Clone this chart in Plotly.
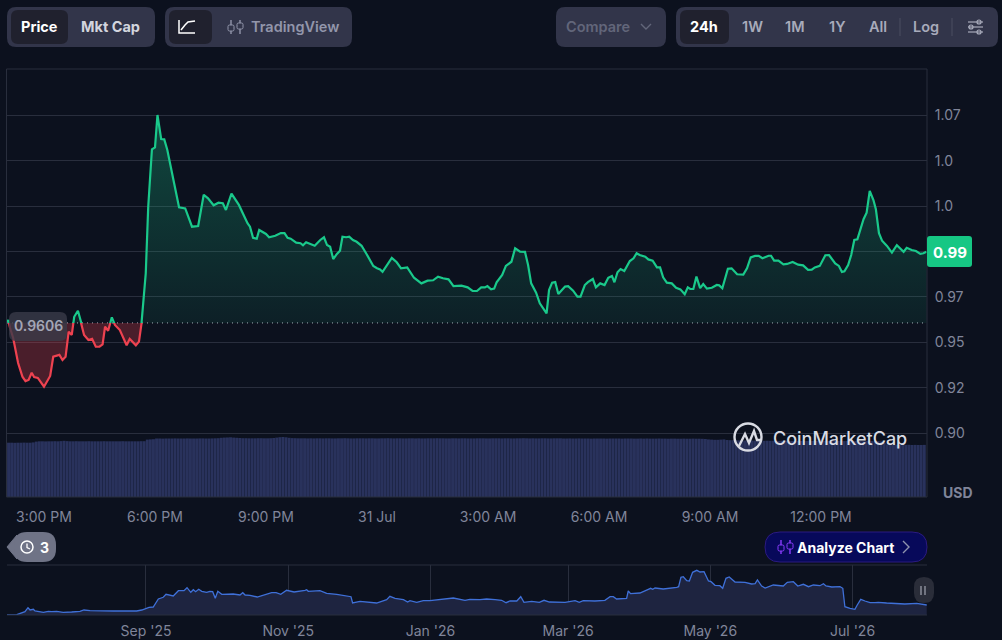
import numpy as np
import pandas as pd
import plotly.graph_objects as go

W, H = 1002, 640

# price line, minutes after 30 Jul 2:00 PM
price_minutes = [
    0, 2, 5, 10, 18, 25, 30, 35, 40, 44, 50, 60, 70, 75, 85, 90, 95, 100, 105, 109,
    115, 121, 125, 132, 138, 144, 150, 155, 159, 164, 170, 175, 183, 194, 199, 209, 214, 218, 225, 229,
    235, 240, 244, 250, 255, 260, 267, 271, 279, 289, 300, 310, 319, 326, 335, 343, 350, 355, 364, 376,
    390, 394, 399, 405, 409, 420, 425, 435, 444, 450, 455, 460, 469, 476, 480, 485, 499, 508, 514, 519,
    524, 529, 535, 540, 544, 550, 555, 561, 567, 575, 583, 594, 600, 605, 609, 624, 632, 639, 649, 660,
    672, 682, 691, 699, 707, 716, 724, 737, 747, 755, 762, 769, 775, 779, 785, 790, 794, 803, 809, 818,
    824, 832, 840, 845, 850, 858, 864, 870, 875, 879, 884, 889, 894, 905, 910, 918, 925, 930, 937, 942,
    950, 955, 962, 969, 975, 981, 985, 990, 995, 1001, 1010, 1016, 1021, 1026, 1035, 1040, 1047, 1054, 1059, 1064,
    1070, 1078, 1085, 1092, 1099, 1104, 1108, 1113, 1118, 1124, 1129, 1135, 1143, 1151, 1155, 1160, 1169, 1175, 1184, 1194,
    1200, 1206, 1213, 1219, 1225, 1235, 1239, 1244, 1251, 1259, 1265, 1274, 1283, 1291, 1299, 1305, 1310, 1318, 1327, 1333,
    1343, 1349, 1354, 1358, 1364, 1369, 1374, 1379, 1383, 1389, 1394, 1399, 1405, 1409, 1414, 1419, 1427, 1435, 1443, 1454,
    1459, 1467, 1474, 1481, 1486, 1491,
]
price_values = [
    .9611, .9622, .9578, .9523, .9385, .9310, .9286, .9292, .9332, .9308, .9303, .9255, .9314, .9420, .9430, .9402, .9420, .9558, .9540, .9640,
    .9673, .9600, .9540, .9512, .9519, .9475, .9475, .9488, .9585, .9563, .9637, .9595, .9567, .9483, .9518, .9483, .9503, .9600, .9879, 1.0246,
    1.0562, 1.0573, 1.0751, 1.0619, 1.0617, 1.0558, 1.0430, 1.0375, 1.0243, 1.0237, 1.0136, 1.0140, 1.0312, 1.0292, 1.0254, 1.0268, 1.0265, 1.0228, 1.0318, 1.0256,
    1.0155, 1.0136, 1.0075, 1.0070, 1.0118, 1.0096, 1.0078, 1.0086, 1.0101, 1.0101, 1.0075, 1.0070, 1.0048, 1.0045, 1.0034, 1.0050, 1.0031, 1.0063, 1.0078, 1.0035,
    1.0026, .9958, .9986, 1.0004, 1.0081, 1.0078, 1.0081, 1.0063, 1.0053, 1.0031, .9986, .9920, .9907, .9901, .9888, .9964, .9940, .9907, .9912, .9855,
    .9824, .9839, .9841, .9861, .9852, .9846, .9809, .9811, .9802, .9782, .9782, .9802, .9802, .9809, .9791, .9795, .9830, .9870, .9920, .9943,
    1.0017, .9998, .9997, .9925, .9824, .9773, .9714, .9687, .9659, .9787, .9828, .9831, .9765, .9806, .9809, .9784, .9751, .9751, .9815, .9831,
    .9848, .9802, .9824, .9815, .9855, .9865, .9830, .9885, .9903, .9892, .9947, .9962, .9990, .9980, .9971, .9956, .9949, .9912, .9912, .9857,
    .9828, .9824, .9800, .9791, .9764, .9802, .9793, .9793, .9861, .9798, .9820, .9795, .9800, .9815, .9813, .9797, .9905, .9907, .9874, .9872,
    .9907, .9967, .9975, .9975, .9962, .9976, .9976, .9949, .9949, .9929, .9931, .9942, .9927, .9923, .9898, .9899, .9912, .9920, .9979, .9980,
    .9934, .9920, .9887, .9890, .9925, .9980, 1.0063, 1.0067, 1.0108, 1.0177, 1.0213, 1.0333, 1.0283, 1.0232, 1.0100, 1.0059, 1.0030, .9993, 1.0034, .9998,
    1.0020, 1.0008, 1.0002, .9986, .9990, .9998,
]
base_price = 0.9606

# 5 min volume bars
volume_values = [
    54.3, 54.3, 54.2, 54.3, 54.3, 54.4, 54.3, 54.3, 54.6, 55.4, 55.7, 55.7,
    55.6, 55.7, 55.7, 55.8, 55.7, 55.9, 56.2, 55.9, 55.7, 55.7, 55.8, 55.7,
    55.7, 55.7, 55.8, 55.7, 55.7, 55.7, 55.7, 55.8, 55.7, 55.7, 55.7, 55.7,
    55.7, 55.8, 55.7, 55.7, 55.7, 55.7, 55.7, 55.8, 55.8, 57.4, 57.6, 57.8,
    58.5, 58.5, 58.4, 58.5, 58.5, 58.5, 58.6, 58.5, 58.5, 58.5, 58.6, 58.5,
    58.5, 58.5, 58.6, 58.6, 58.5, 58.5, 58.6, 58.7, 58.8, 59.2, 59.4, 59.5,
    59.7, 59.4, 59.2, 59.0, 58.8, 58.8, 58.7, 58.7, 58.7, 58.8, 58.8, 58.7,
    58.7, 58.8, 59.0, 59.4, 59.8, 60.0, 59.7, 59.2, 58.9, 58.8, 58.7, 58.7,
    58.7, 58.6, 58.7, 58.6, 58.7, 58.7, 58.6, 58.7, 58.7, 58.6, 58.6, 58.7,
    58.7, 58.8, 58.7, 58.6, 58.6, 58.7, 58.7, 58.7, 58.6, 58.7, 58.7, 58.6,
    58.6, 58.7, 58.7, 58.8, 58.7, 58.6, 58.7, 58.7, 58.6, 58.6, 58.7, 58.7,
    58.6, 58.7, 58.6, 58.6, 58.7, 58.7, 58.7, 58.8, 58.7, 58.7, 58.6, 58.6,
    58.7, 58.7, 58.6, 58.7, 58.7, 58.6, 58.6, 58.6, 58.7, 58.7, 58.7, 58.6,
    58.6, 58.7, 58.7, 58.7, 58.6, 58.7, 58.7, 58.6, 58.6, 58.7, 58.7, 58.8,
    58.7, 58.6, 58.7, 58.6, 58.6, 58.7, 58.7, 58.6, 58.6, 58.7, 58.7, 58.7,
    58.5, 58.5, 58.6, 58.5, 58.5, 58.6, 58.5, 58.5, 58.5, 58.4, 58.5, 58.5,
    58.5, 58.5, 58.4, 58.5, 58.5, 58.5, 58.5, 58.4, 58.5, 58.5, 58.5, 58.4,
    58.4, 58.5, 58.4, 58.5, 58.4, 58.4, 58.4, 58.5, 58.4, 58.4, 58.3, 58.4,
    58.4, 58.3, 58.3, 58.4, 58.3, 58.3, 58.4, 58.3, 58.3, 58.2, 58.0, 57.6,
    57.4, 57.2, 57.2, 57.4, 57.6, 57.0, 56.8, 56.8, 56.6, 56.6, 56.5, 56.5,
    56.4, 56.4, 56.4, 56.3, 56.3, 56.2, 56.3, 56.2, 56.2, 56.2, 56.1, 56.2,
    56.1, 56.1, 56.0, 56.1, 56.1, 56.0, 56.0, 56.1, 56.0, 56.0, 56.0, 56.0,
    56.0, 56.0, 56.0, 56.1, 56.0, 56.0, 56.0, 55.9, 56.0, 56.0, 55.9, 55.9,
    56.0, 55.9, 55.9, 56.0, 55.9, 55.9, 55.9, 55.6, 54.2, 52.6, 52.3, 52.2,
    52.2, 52.1, 52.2, 52.1, 52.2, 52.0, 52.1, 52.0, 52.0, 52.1,
]

# navigator line, days after the start of the overview range
nav_days = [
    0, 4.2, 7.7, 9, 9.9, 11.3, 12, 15.6, 17.7, 19.2, 21.3, 24.1, 27.7, 31.3, 33, 35.6, 45.6, 55.6, 57.8, 60.9,
    62.7, 64.9, 67, 68.2, 71.3, 73.5, 75.9, 77.2, 78.8, 79.9, 80.9, 82.2, 83.5, 85.6, 87, 88.2, 89.3, 90.4, 92.1, 95.6,
    97, 99.9, 101.1, 102.1, 104.2, 107.3, 109.9, 113.5, 115.4, 117.4, 119.9, 123.1, 127.8, 128.5, 129.2, 134.2, 137.1, 141.4, 147.5, 148.2,
    151.4, 154.9, 158.5, 162.8, 164.2, 166.4, 170, 171.8, 172.8, 175.7, 178.5, 181.4, 185.7, 191.4, 196.4, 198.5, 202.8, 205.7, 209.3, 212.1,
    214, 215.7, 218.6, 220.3, 221.7, 225, 228.3, 230.3, 232.6, 237.9, 239.3, 243.6, 245.4, 247.1, 252.1, 256.4, 258.6, 260, 261.4, 265.7,
    266.4, 267.4, 271.4, 275, 276, 276.9, 277.9, 281.4, 285, 287.2, 288, 289, 290, 291.5, 292.6, 294, 295.8, 297.2, 298.9, 300.8,
    301.9, 303.6, 305.7, 306.9, 308.3, 309.7, 312.2, 316.5, 319.3, 320.8, 321.8, 323.6, 325.1, 327.6, 328.6, 332.9, 334.6, 337.2, 339.1, 341.5,
    343.7, 345.8, 348.6, 350.1, 351.2, 353.7, 357.2, 358.4, 359.3, 361.5, 363.6, 364.6, 366.1, 367.9, 370.1, 372.2, 373.6, 377.2, 385, 390.1,
    394.4,
]
nav_values = [
    0, .3, 3.3, 7.3, 5, 5.7, 4, 2.7, 3.7, 3.3, 3.7, 2.7, 3, 3.7, 5, 4.3, 4, 4, 5, 7.7,
    8, 16, 17.7, 20.7, 19, 24.3, 24.3, 27.3, 22.7, 25.3, 23.3, 25.7, 23.7, 22.7, 23.7, 23.3, 16.7, 23.7, 20.7, 20.7,
    21, 20, 22.3, 20, 19.7, 18, 20, 22.3, 22.3, 20.7, 24.7, 23, 24.7, 25.3, 23.7, 24.3, 21.7, 20.7, 18.3, 12,
    13.7, 13, 12, 15.3, 18.7, 16.7, 15.3, 13, 14.3, 12.7, 14.3, 14.3, 15.3, 17, 14.7, 15.7, 15.3, 16, 15.3, 14.7,
    12.3, 14, 14, 18.3, 12.7, 13.7, 12.7, 14.7, 13, 13.3, 12.7, 14.3, 12.7, 14.3, 14, 14.7, 18.3, 18.3, 16, 16.7,
    24, 21.3, 22, 25.7, 26.7, 25.7, 27, 26, 26.7, 27.7, 28.3, 37.7, 38.3, 34.3, 34, 42.7, 44.7, 43, 43.3, 34,
    33.3, 29.7, 29.3, 26.7, 36.7, 38, 33, 32.7, 31, 31.3, 35, 29, 27, 29, 30, 29, 32.7, 33.3, 29, 30.7,
    28.3, 30, 29.3, 31.3, 29, 28, 28.3, 26.7, 8.3, 6.7, 5.7, 10, 15.7, 14, 12.3, 12.3, 12.7, 12, 11, 11.7,
    10,
]

y_ticks = [0.90, 0.925, 0.95, 0.975, 1.0, 1.025, 1.05, 1.075]
y_labels = ['0.90', '0.92', '0.95', '0.97', '', '1.0', '1.0', '1.07']
x_ticks = ['2026-07-30 15:00', '2026-07-30 18:00', '2026-07-30 21:00', '2026-07-31 00:00',
           '2026-07-31 03:00', '2026-07-31 06:00', '2026-07-31 09:00', '2026-07-31 12:00']
x_labels = ['3:00 PM', '6:00 PM', '9:00 PM', '31 Jul', '3:00 AM', '6:00 AM', '9:00 AM', '12:00 PM']
nav_ticks = ['2025-09-01', '2025-11-01', '2026-01-01', '2026-03-01', '2026-05-01', '2026-07-01']
nav_labels = ["Sep '25", "Nov '25", "Jan '26", "Mar '26", "May '26", "Jul '26"]

BG = '#0c111e'
GRID = '#292e3d'
TICK = '#80859a'
GREEN = '#1ac98b'
RED = '#ee4250'
PANEL = '#32354a'
ACTIVE = '#20212e'
FONT = 'Inter'
NONE = 'rgba(0,0,0,0)'


def xp(px):
    return px / W


def yp(py):
    return 1 - py / H


# pixel scale of the price axis
PER_PX = 0.025 / 45.4
top_price = 0.90 + (433 - 69) * PER_PX
bottom_price = 0.90 + (433 - 497) * PER_PX
base_py = 433 - (base_price - 0.90) / PER_PX

start = pd.Timestamp('2026-07-30 14:00')
end = start + pd.Timedelta(hours=920 / 37)
price_x = start + pd.to_timedelta(price_minutes, unit='m')
base_y = [base_price] * len(price_x)
volume_x = start + pd.to_timedelta(2.5 + 5 * np.arange(len(volume_values)), unit='m')

nav_start = pd.Timestamp('2025-07-03 09:36')
nav_end = nav_start + pd.Timedelta(days=920 / 2.332)
nav_x = nav_start + pd.to_timedelta(nav_days, unit='D')

fig = go.Figure()

# dotted open price on the full axis, so the grid stays under everything
fig.add_trace(go.Scatter(x=price_x, y=base_y, mode='lines', yaxis='y',
                         line=dict(color='#a9adba', width=1, dash='1px,4px')))

# green part: same line clipped to the pane above the open price
fig.add_trace(go.Scatter(x=price_x, y=base_y, mode='lines', yaxis='y2', line=dict(width=0)))
fig.add_trace(go.Scatter(x=price_x, y=price_values, mode='lines', yaxis='y2',
                         line=dict(color=GREEN, width=2.2), fill='tonexty',
                         fillgradient=dict(type='vertical',
                                           colorscale=[[0, 'rgba(26,201,139,0.08)'], [1, 'rgba(26,201,139,0.3)']],
                                           start=base_price, stop=1.075)))

# red part: clipped to the pane below it
fig.add_trace(go.Scatter(x=price_x, y=base_y, mode='lines', yaxis='y3', line=dict(width=0)))
fig.add_trace(go.Scatter(x=price_x, y=price_values, mode='lines', yaxis='y3',
                         line=dict(color=RED, width=2.2), fill='tonexty',
                         fillcolor='rgba(238,66,80,0.28)'))

fig.add_trace(go.Bar(x=volume_x, y=volume_values, yaxis='y4', marker=dict(color='#29325c', line_width=0)))

fig.add_trace(go.Scatter(x=nav_x, y=nav_values, mode='lines', xaxis='x2', yaxis='y5',
                         line=dict(color='#3f70d8', width=1.3), fill='tozeroy',
                         fillcolor='#1e2440'))

shapes = []
notes = []


def rounded(x0, y0, x1, y1, r, color, line=None, opacity=1):
    X0, X1, Y0, Y1 = xp(x0), xp(x1), yp(y0), yp(y1)
    rx, ry = r / W, r / H
    path = (f'M {X0 + rx} {Y0} L {X1 - rx} {Y0} Q {X1} {Y0} {X1} {Y0 - ry} '
            f'L {X1} {Y1 + ry} Q {X1} {Y1} {X1 - rx} {Y1} L {X0 + rx} {Y1} '
            f'Q {X0} {Y1} {X0} {Y1 + ry} L {X0} {Y0 - ry} Q {X0} {Y0} {X0 + rx} {Y0} Z')
    shapes.append(dict(type='path', path=path, xref='paper', yref='paper', fillcolor=color,
                       line=dict(color=line or color, width=1 if line else 0), layer='above', opacity=opacity))


def stroke(points, color, width=1.5, fill=None):
    path = 'M ' + ' L '.join(f'{xp(a)} {yp(b)}' for a, b in points)
    if fill:
        path += ' Z'
    shapes.append(dict(type='path', path=path, xref='paper', yref='paper',
                       line=dict(color=color, width=width), fillcolor=fill, layer='above'))


def ring(cx, cy, r, color, width=1.5):
    shapes.append(dict(type='circle', xref='paper', yref='paper', x0=xp(cx - r), x1=xp(cx + r),
                       y0=yp(cy + r), y1=yp(cy - r), line=dict(color=color, width=width), layer='above'))


def label(text, x, y, color, size=14, weight=600, anchor='center'):
    notes.append(dict(text=text, x=xp(x), y=yp(y), xref='paper', yref='paper', showarrow=False,
                      xanchor=anchor, yanchor='middle',
                      font=dict(family=FONT, size=size, color=color, weight=weight)))


def candles(x0, cy, color, inner):
    # two small candlesticks
    for cx, top in [(x0 + 3, cy - 2), (x0 + 12, cy - 4)]:
        stroke([(cx, cy - 7), (cx, cy + 7)], color, 1.4)
        rounded(cx - 3, top, cx + 3, top + 6, 1.5, inner, line=color)


# chart frame
for pts in [[(6.5, 69), (927, 69)], [(6.5, 69), (6.5, 497)], [(927, 69), (927, 497)], [(6.5, 497), (927, 497)],
            [(7, 565), (927, 565)], [(7, 615), (927, 615)]]:
    stroke(pts, GRID, 1)

# toolbar
rounded(7, 7, 155, 47, 9, PANEL)
rounded(11, 10, 68, 44, 7, ACTIVE)
label('Price', 39, 26.5, '#ffffff', 14.5, 700)
label('Mkt Cap', 110, 26.5, '#d3d5de', 14.5, 700)

rounded(165, 7, 352, 47, 9, PANEL)
rounded(169, 10, 212, 44, 7, ACTIVE)
stroke([(179, 20), (179, 33), (195, 33)], '#ffffff', 1.5)
stroke([(181, 30), (185, 25), (188, 22), (195, 21)], '#ffffff', 1.5)
candles(228, 27, '#9296ab', PANEL)
label('TradingView', 295, 26.5, '#9296ab', 14.5, 600)

rounded(556, 7, 666, 47, 9, PANEL)
label('Compare', 598, 26.5, '#62667a', 14.5, 600)
stroke([(641, 24), (646, 29), (651, 24)], '#62667a', 1.4)

rounded(676, 7, 998, 47, 9, PANEL)
rounded(680, 10, 729, 44, 7, ACTIVE)
label('24h', 704, 26.5, '#ffffff', 14.5, 700)
for name, cx in [('1W', 752), ('1M', 795), ('1Y', 837), ('All', 878), ('Log', 926)]:
    label(name, cx, 26.5, '#a8abbb', 14.5, 600)
stroke([(900, 18), (900, 36)], '#4b4e60', 1)
stroke([(952, 18), (952, 36)], '#4b4e60', 1)
for sy, sx in [(22, 979), (27, 971), (32, 979)]:
    stroke([(968, sy), (983, sy)], '#a8abbb', 1.2)
    ring(sx, sy, 2, '#a8abbb', 1.2)

# open price label and last price pill
rounded(9, 312, 67, 341, 7, 'rgb(58,59,72)', opacity=0.8)
label('0.9606', 38, 325.5, '#a3a6b6', 14, 600)
rounded(927, 236, 972, 267, 3, '#16c784')
label('0.99', 950, 252, '#ffffff', 15, 700)
label('USD', 958, 492, TICK, 14, 700)

# watermark
ring(748, 437, 13.5, '#d9dbe3', 2.4)
stroke([(739, 446), (745, 434), (749, 443), (754, 431), (757, 440), (762, 440)], '#d9dbe3', 2.4)
label('CoinMarketCap', 840, 438, '#d9dbe3', 18, 500)

# history pill
stroke([(7, 547), (17, 535), (17, 559)], '#6f7386', 1, fill='#6f7386')
rounded(14, 532, 56, 562, 13, '#6f7386')
ring(27, 547, 6, '#ffffff', 1.5)
stroke([(27, 543.5), (27, 547.5), (30, 549)], '#ffffff', 1.3)
label('3', 44, 547, '#ffffff', 14, 700)

# analyze chart button
rounded(765, 532, 927, 562, 15, '#07095a', line='#2b1a80')
candles(778, 547, '#8b3dff', '#07095a')
label('Analyze Chart', 845, 547, '#ffffff', 14, 700)
stroke([(903, 541), (909, 547), (903, 553)], '#8f93ad', 1.4)

# pause handle
rounded(914, 577, 934, 603, 10, '#2a2d39')
stroke([(921, 586), (921, 595)], '#9a9da8', 1.3)
stroke([(925, 586), (925, 595)], '#9a9da8', 1.3)

label_font = dict(family=FONT, size=14, color=TICK)

fig.update_layout(
    width=W, height=H, margin=dict(l=0, r=0, t=0, b=0),
    paper_bgcolor=BG, plot_bgcolor=NONE, showlegend=False, bargap=0.05,
    shapes=shapes, annotations=notes,
    xaxis=dict(domain=[xp(7), xp(927)], range=[start, end], anchor='y', type='date', automargin=False,
               tickvals=x_ticks, ticktext=x_labels, tickfont=label_font, ticks='outside',
               ticklen=7, tickcolor=NONE, showgrid=False, zeroline=False, showline=False),
    xaxis2=dict(domain=[xp(7), xp(927)], range=[nav_start, nav_end], anchor='y5', type='date', automargin=False,
                tickvals=nav_ticks, ticktext=nav_labels, tickfont=label_font, ticks='outside',
                ticklen=3, tickcolor=NONE, showgrid=True, gridcolor=GRID, gridwidth=1,
                zeroline=False, showline=False),
    yaxis=dict(domain=[yp(497), yp(69)], range=[bottom_price, top_price], anchor='x', side='right', automargin=False,
               tickvals=y_ticks, ticktext=y_labels, tickfont=label_font, ticks='outside', ticklen=4,
               tickcolor=NONE, showgrid=True, gridcolor=GRID, gridwidth=1, zeroline=False),
    yaxis2=dict(domain=[yp(base_py), yp(69)], range=[base_price, top_price], anchor='x', visible=False),
    yaxis3=dict(domain=[yp(497), yp(base_py)], range=[bottom_price, base_price], anchor='x', visible=False),
    yaxis4=dict(domain=[yp(497), yp(433)], range=[0, 64], anchor='x', visible=False),
    yaxis5=dict(domain=[yp(615), yp(565)], range=[0, 50], anchor='x2', visible=False),
)

fig.write_html('out.html', config={'displayModeBar': False},
               post_script="document.body.style.margin='0';document.body.style.background='%s';" % BG)
